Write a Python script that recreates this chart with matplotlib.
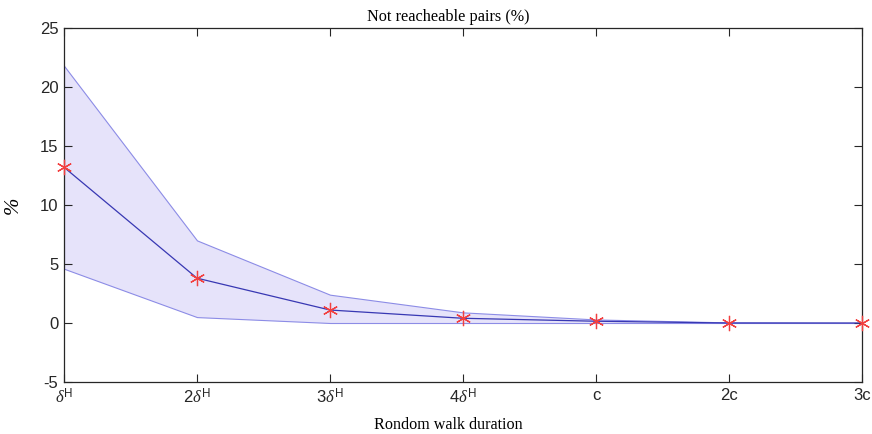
import numpy as np
import matplotlib.pyplot as plt

# Data
labels = [r'$\delta^{\rm H}$', r'2$\delta^{\rm H}$', r'3$\delta^{\rm H}$',
          r'4$\delta^{\rm H}$', 'c', '2c', '3c']
mean_pct = [13.2, 3.8, 1.1, 0.4, 0.15, 0.0, 0.0]
upper_pct = [21.8, 7.0, 2.4, 0.9, 0.3, 0.05, 0.0]
lower_pct = [4.6, 0.5, 0.0, 0.0, 0.0, 0.0, 0.0]

plt.rcParams['mathtext.fontset'] = 'custom'
plt.rcParams['mathtext.rm'] = 'Liberation Sans'
plt.rcParams['mathtext.it'] = 'Liberation Serif:italic'
plt.rcParams['axes.unicode_minus'] = False

fig = plt.figure(figsize=(8.72, 4.34), dpi=100)
ax = fig.add_axes([64 / 872, 1 - 382 / 434, (862 - 64) / 872, (382 - 28) / 434])

x = np.arange(len(labels))
ax.fill_between(x, lower_pct, upper_pct, facecolor=(0.90, 0.89, 0.98),
                edgecolor=(0.55, 0.55, 0.90), linewidth=0.8, zorder=1)
ax.plot(x, mean_pct, color=(0.22, 0.22, 0.70), linewidth=0.9, zorder=2)
ax.plot(x, mean_pct, linestyle='none', marker=(6, 2, 0), markersize=11,
        markeredgecolor=(0.95, 0.25, 0.25), markeredgewidth=0.9, zorder=3,
        clip_on=False)

ax.set_xlim(0, len(labels) - 1)
ax.set_ylim(-5, 25)
ax.set_xticks(x)
ax.set_xticklabels(labels)
ax.set_yticks(np.arange(-5, 26, 5))

for lab in ax.get_xticklabels() + ax.get_yticklabels():
    lab.set_fontfamily('Liberation Sans')
    lab.set_fontsize(12)

ax.tick_params(direction='in', top=True, right=True, length=6, width=0.8,
               colors='#262626', pad=4)
for s in ax.spines.values():
    s.set_linewidth(0.9)
    s.set_color('#262626')

ax.set_title('Not reacheable pairs (%)', fontfamily='Liberation Serif',
             fontsize=11.7, pad=5, x=0.481)
ax.set_xlabel('Rondom walk duration', fontfamily='Liberation Serif',
              fontsize=11.6)
ax.xaxis.set_label_coords(0.481, -0.098)
ax.set_ylabel('%', fontfamily='Liberation Serif', fontstyle='italic',
              fontsize=15)
ax.yaxis.set_label_coords(-0.052, 0.5)

fig.savefig('out.png', dpi=100, facecolor='white')
